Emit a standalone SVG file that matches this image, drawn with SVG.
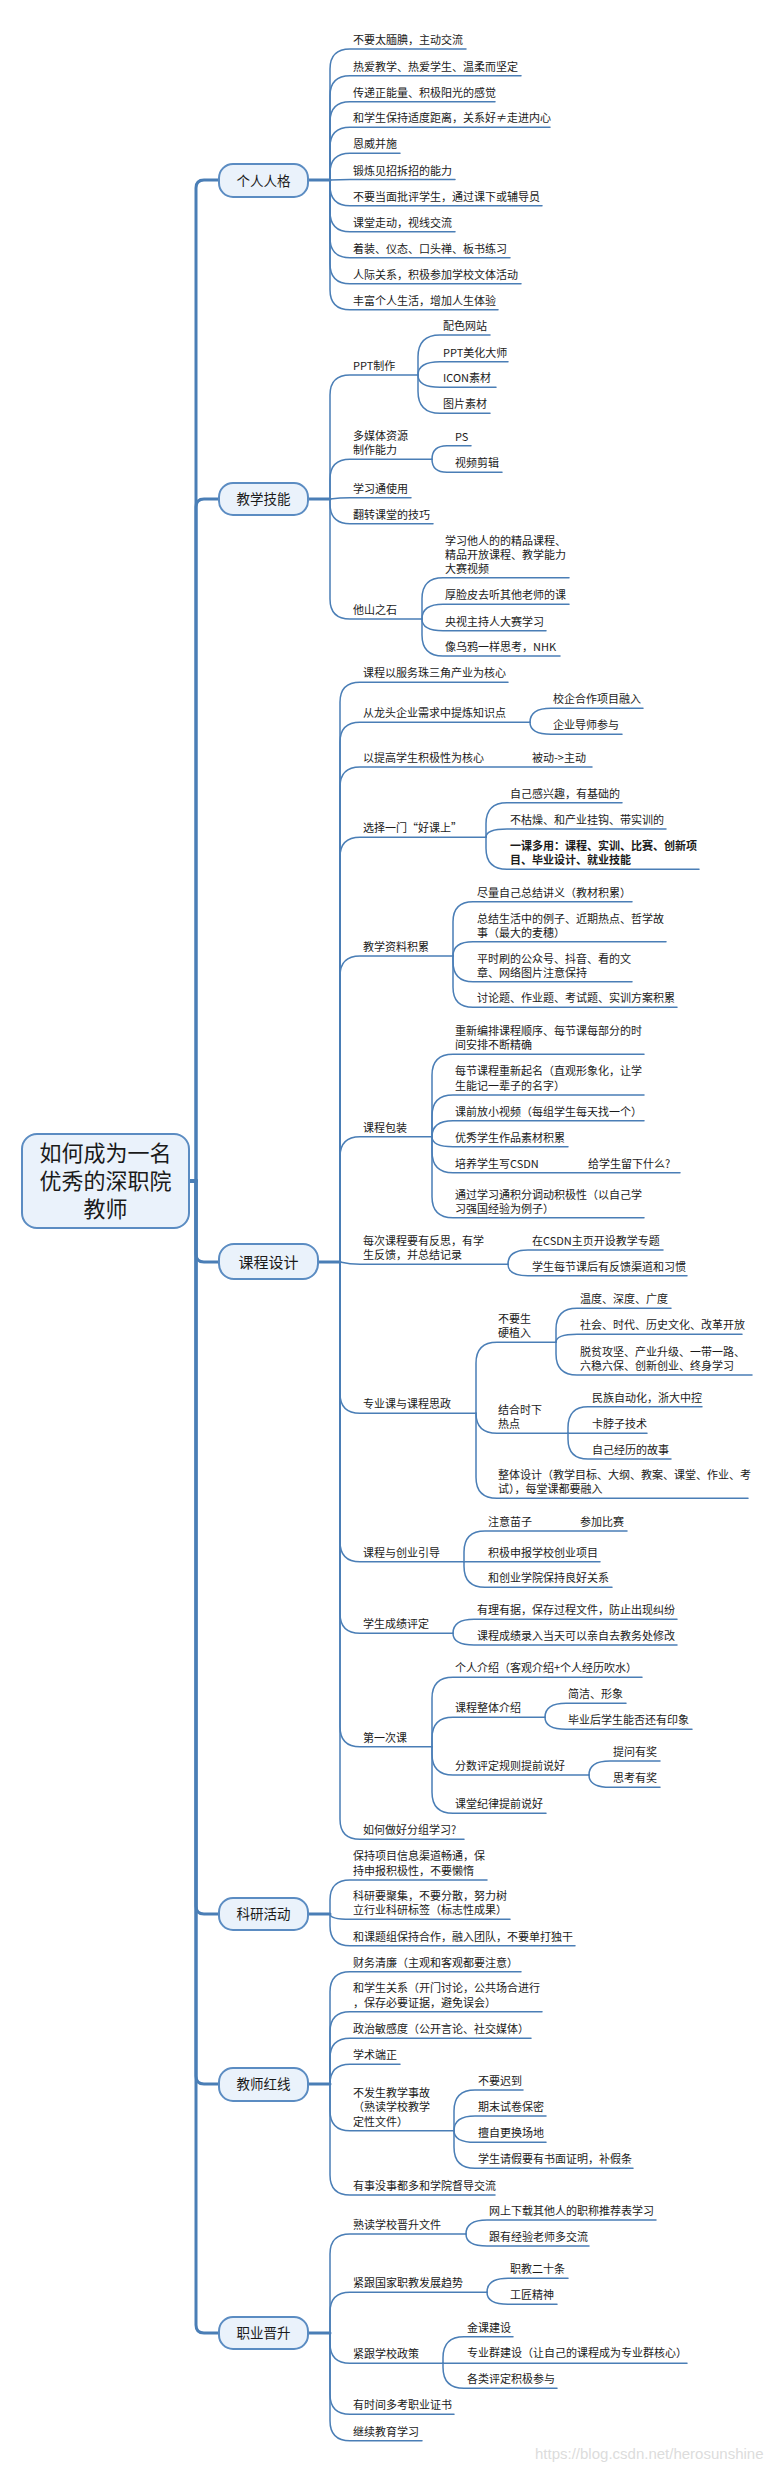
<svg xmlns="http://www.w3.org/2000/svg" width="784" height="2472" viewBox="0 0 784 2472">
<style>
.ln{fill:none;stroke:#4a7eb6;stroke-width:1.5;stroke-linecap:round}
.mn{stroke-width:3}
.t{font-family:"Noto Sans CJK SC","Noto Sans",sans-serif;font-size:11px;fill:#1a1a1a}
.b{font-weight:bold}
.box{fill:#eaf2fb;stroke:#5b8cc2;stroke-width:2}
.nt{font-family:"Noto Sans CJK SC","Noto Sans",sans-serif;font-size:13.5px;fill:#1a1a1a;text-anchor:middle}
.rt{font-family:"Noto Sans CJK SC","Noto Sans",sans-serif;font-size:22px;fill:#1a1a1a;text-anchor:middle}
.wm{font-family:"Liberation Sans",Arial,sans-serif;font-size:15px;fill:#dcdcdc}
</style>
<rect width="784" height="2472" fill="#ffffff"/>
<g id="connectors">
<!-- root trunk -->
<path class="ln mn" d="M189 1181 H196 V188 Q196 180 204 180 H219"/>
<path class="ln mn" d="M189 1181 H196 V507 Q196 499 204 499 H219"/>
<path class="ln mn" d="M189 1181 H196 V1254 Q196 1262 204 1262 H219"/>
<path class="ln mn" d="M189 1181 H196 V1906 Q196 1914 204 1914 H219"/>
<path class="ln mn" d="M189 1181 H196 V2076 Q196 2084 204 2084 H219"/>
<path class="ln mn" d="M189 1181 H196 V2325 Q196 2333 204 2333 H219"/>
<!-- 个人人格 -->
<path class="ln mn" d="M308 180 H330"/>
<path class="ln" d="M330 180 V69 Q330 49 350 49 H466"/>
<path class="ln" d="M330 180 V95.7 Q330 75.7 350 75.7 H521"/>
<path class="ln" d="M330 180 V121.7 Q330 101.7 350 101.7 H495"/>
<path class="ln" d="M330 180 V147.3 Q330 127.3 350 127.3 H550"/>
<path class="ln" d="M330 180 V173.3 Q330 153.3 350 153.3 H400"/>
<path class="ln" d="M330 180 Q340 179.5 350 179.5 H455"/>
<path class="ln" d="M330 180 V185.7 Q330 205.7 350 205.7 H542"/>
<path class="ln" d="M330 180 V211.7 Q330 231.7 350 231.7 H455"/>
<path class="ln" d="M330 180 V237.7 Q330 257.7 350 257.7 H510"/>
<path class="ln" d="M330 180 V263.7 Q330 283.7 350 283.7 H521"/>
<path class="ln" d="M330 180 V289.7 Q330 309.7 350 309.7 H498"/>
<!-- 教学技能 -->
<path class="ln mn" d="M308 499 H330"/>
<path class="ln" d="M330 499 V395 Q330 375 350 375 H418"/>
<path class="ln" d="M418 375 V357 Q418 335 440 335 H490"/>
<path class="ln" d="M418 375 Q418 361.7 440 361.7 H508"/>
<path class="ln" d="M418 375 Q418 387.3 440 387.3 H496"/>
<path class="ln" d="M418 375 V391.3 Q418 413.3 440 413.3 H490"/>
<path class="ln" d="M330 499 V479.3 Q330 459.3 350 459.3 H432"/>
<path class="ln" d="M432 459.3 Q432 445.7 447 445.7 H471"/>
<path class="ln" d="M432 459.3 Q432 472.3 447 472.3 H502"/>
<path class="ln" d="M330 499 Q340 497.7 350 497.7 H411"/>
<path class="ln" d="M330 499 V503.7 Q330 523.7 350 523.7 H433"/>
<path class="ln" d="M330 499 V599 Q330 619 350 619 H422"/>
<path class="ln" d="M422 619 V598.7 Q422 577.7 443 577.7 H569"/>
<path class="ln" d="M422 619 Q422 604.3 443 604.3 H569"/>
<path class="ln" d="M422 619 Q422 630.7 443 630.7 H546"/>
<path class="ln" d="M422 619 V635 Q422 656 443 656 H560"/>
<!-- 课程设计 -->
<path class="ln mn" d="M318 1262 H340"/>
<path class="ln" d="M340 1262 V702.3 Q340 682.3 360 682.3 H508"/>
<path class="ln" d="M340 1262 V742.3 Q340 722.3 360 722.3 H530"/>
<path class="ln" d="M530 722.3 Q530 708.3 551 708.3 H643"/>
<path class="ln" d="M530 722.3 Q530 734.3 551 734.3 H622"/>
<path class="ln" d="M340 1262 V787 Q340 767 360 767 H592"/>
<path class="ln" d="M340 1262 V857.3 Q340 837.3 360 837.3 H486"/>
<path class="ln" d="M486 837.3 V823.7 Q486 802.7 507 802.7 H622"/>
<path class="ln" d="M486 837.3 Q486 829 507 829 H666"/>
<path class="ln" d="M486 837.3 V848.3 Q486 869.3 507 869.3 H699"/>
<path class="ln" d="M340 1262 V976 Q340 956 360 956 H453"/>
<path class="ln" d="M453 956 V921.7 Q453 901.7 473 901.7 H632"/>
<path class="ln" d="M453 956 Q453 941.7 473 941.7 H666"/>
<path class="ln" d="M453 956 V961.7 Q453 981.7 473 981.7 H632"/>
<path class="ln" d="M453 956 V987.3 Q453 1007.3 473 1007.3 H677"/>
<path class="ln" d="M340 1262 V1156.7 Q340 1136.7 360 1136.7 H432"/>
<path class="ln" d="M432 1136.7 V1075.3 Q432 1054.3 453 1054.3 H644"/>
<path class="ln" d="M432 1136.7 V1116 Q432 1095 453 1095 H644"/>
<path class="ln" d="M432 1136.7 Q432 1120.7 453 1120.7 H644"/>
<path class="ln" d="M432 1136.7 Q432 1146.7 453 1146.7 H568"/>
<path class="ln" d="M432 1136.7 V1151.7 Q432 1172.7 453 1172.7 H680"/>
<path class="ln" d="M432 1136.7 V1196.7 Q432 1217.7 453 1217.7 H644"/>
<path class="ln" d="M340 1262 Q350 1264.3 360 1264.3 H508"/>
<path class="ln" d="M508 1264.3 Q508 1250 528 1250 H663"/>
<path class="ln" d="M508 1264.3 Q508 1275.7 528 1275.7 H687"/>
<path class="ln" d="M340 1262 V1393.3 Q340 1413.3 360 1413.3 H476"/>
<path class="ln" d="M476 1413.3 V1363.3 Q476 1342.3 497 1342.3 H556"/>
<path class="ln" d="M556 1342.3 V1329.3 Q556 1308.3 577 1308.3 H671"/>
<path class="ln" d="M556 1342.3 Q556 1334.3 577 1334.3 H742"/>
<path class="ln" d="M556 1342.3 V1354 Q556 1375 577 1375 H752"/>
<path class="ln" d="M476 1413.3 Q476 1433.3 497 1433.3 H568"/>
<path class="ln" d="M568 1433.3 V1427.7 Q568 1406.7 588 1406.7 H702"/>
<path class="ln" d="M568 1433.3 H647"/>
<path class="ln" d="M568 1433.3 V1439 Q568 1459 588 1459 H671"/>
<path class="ln" d="M476 1413.3 V1477.3 Q476 1498.3 497 1498.3 H748"/>
<path class="ln" d="M340 1262 V1541.7 Q340 1561.7 360 1561.7 H464"/>
<path class="ln" d="M464 1561.7 V1552 Q464 1531 485 1531 H627"/>
<path class="ln" d="M464 1561.7 H600"/>
<path class="ln" d="M464 1561.7 V1566.3 Q464 1587.3 485 1587.3 H612"/>
<path class="ln" d="M340 1262 V1613.3 Q340 1633.3 360 1633.3 H453"/>
<path class="ln" d="M453 1633.3 Q453 1619.3 474 1619.3 H677"/>
<path class="ln" d="M453 1633.3 Q453 1645 474 1645 H677"/>
<path class="ln" d="M340 1262 V1726.7 Q340 1746.7 360 1746.7 H432"/>
<path class="ln" d="M432 1746.7 V1698.3 Q432 1677.3 453 1677.3 H642"/>
<path class="ln" d="M432 1746.7 V1738.3 Q432 1717.3 453 1717.3 H545"/>
<path class="ln" d="M545 1717.3 Q545 1703.3 566 1703.3 H626"/>
<path class="ln" d="M545 1717.3 Q545 1729.3 566 1729.3 H692"/>
<path class="ln" d="M432 1746.7 V1754 Q432 1775 453 1775 H589"/>
<path class="ln" d="M589 1775 Q589 1761 610 1761 H660"/>
<path class="ln" d="M589 1775 Q589 1787.3 610 1787.3 H660"/>
<path class="ln" d="M432 1746.7 V1792.3 Q432 1813.3 453 1813.3 H546"/>
<path class="ln" d="M340 1262 V1819.3 Q340 1839.3 360 1839.3 H464"/>
<!-- 科研活动 -->
<path class="ln mn" d="M308 1914 H330"/>
<path class="ln" d="M330 1914 V1900 Q330 1880 350 1880 H487"/>
<path class="ln" d="M330 1914 Q330 1919.3 350 1919.3 H510"/>
<path class="ln" d="M330 1914 V1925.7 Q330 1945.7 350 1945.7 H575"/>
<!-- 教师红线 -->
<path class="ln mn" d="M308 2084 H330"/>
<path class="ln" d="M330 2084 V1991.7 Q330 1971.7 350 1971.7 H521"/>
<path class="ln" d="M330 2084 V2031.7 Q330 2011.7 350 2011.7 H542"/>
<path class="ln" d="M330 2084 V2058.3 Q330 2038.3 350 2038.3 H531"/>
<path class="ln" d="M330 2084 Q330 2064.3 350 2064.3 H400"/>
<path class="ln" d="M330 2084 V2110.7 Q330 2130.7 350 2130.7 H454"/>
<path class="ln" d="M454 2130.7 V2111 Q454 2090 475 2090 H523"/>
<path class="ln" d="M454 2130.7 Q454 2116 475 2116 H546"/>
<path class="ln" d="M454 2130.7 Q454 2142.3 475 2142.3 H546"/>
<path class="ln" d="M454 2130.7 V2147.3 Q454 2168.3 475 2168.3 H633"/>
<path class="ln" d="M330 2084 V2175 Q330 2195 350 2195 H495"/>
<!-- 职业晋升 -->
<path class="ln mn" d="M308 2333 H330"/>
<path class="ln" d="M330 2333 V2254 Q330 2234 350 2234 H466"/>
<path class="ln" d="M466 2234 Q466 2220 487 2220 H656"/>
<path class="ln" d="M466 2234 Q466 2246 487 2246 H589"/>
<path class="ln" d="M330 2333 V2312.3 Q330 2292.3 350 2292.3 H487"/>
<path class="ln" d="M487 2292.3 Q487 2278.3 508 2278.3 H568"/>
<path class="ln" d="M487 2292.3 Q487 2304.3 508 2304.3 H557"/>
<path class="ln" d="M330 2333 V2343.3 Q330 2363.3 350 2363.3 H443"/>
<path class="ln" d="M443 2363.3 V2357.7 Q443 2336.7 464 2336.7 H513"/>
<path class="ln" d="M443 2363.3 H687"/>
<path class="ln" d="M443 2363.3 V2367.3 Q443 2388.3 464 2388.3 H557"/>
<path class="ln" d="M330 2333 V2394.3 Q330 2414.3 350 2414.3 H454"/>
<path class="ln" d="M330 2333 V2420.7 Q330 2440.7 350 2440.7 H422"/>
</g>

<g id="root"><rect class="box" x="22" y="1134" width="167" height="94" rx="15"/>
<text class="rt" x="105.5" y="1161">如何成为一名</text>
<text class="rt" x="105.5" y="1189">优秀的深职院</text>
<text class="rt" x="105.5" y="1217">教师</text></g>

<g id="n-geren"><rect class="box" x="219" y="164" width="89" height="33" rx="14"/><text class="nt" x="263.5" y="185.5">个人人格</text></g>
<g id="n-jineng"><rect class="box" x="219" y="483" width="89" height="32" rx="14"/><text class="nt" x="263.5" y="504">教学技能</text></g>
<g id="n-kecheng"><rect class="box" x="219" y="1244" width="99" height="35" rx="15"/><text class="nt" x="268.5" y="1267.5" style="font-size:15px">课程设计</text></g>
<g id="n-keyan"><rect class="box" x="219" y="1898" width="89" height="32" rx="14"/><text class="nt" x="263.5" y="1919">科研活动</text></g>
<g id="n-hongxian"><rect class="box" x="219" y="2068" width="89" height="33" rx="14"/><text class="nt" x="263.5" y="2089">教师红线</text></g>
<g id="n-jinsheng"><rect class="box" x="219" y="2317" width="89" height="32" rx="14"/><text class="nt" x="263.5" y="2338">职业晋升</text></g>

<g id="geren-items" class="t">
<g id="g1"><text x="353" y="44">不要太腼腆，主动交流</text></g>
<g id="g2"><text x="353" y="70.7">热爱教学、热爱学生、温柔而坚定</text></g>
<g id="g3"><text x="353" y="96.7">传递正能量、积极阳光的感觉</text></g>
<g id="g4"><text x="353" y="122.3">和学生保持适度距离，关系好≠走进内心</text></g>
<g id="g5"><text x="353" y="148.3">恩威并施</text></g>
<g id="g6"><text x="353" y="174.5">锻炼见招拆招的能力</text></g>
<g id="g7"><text x="353" y="200.7">不要当面批评学生，通过课下或辅导员</text></g>
<g id="g8"><text x="353" y="226.7">课堂走动，视线交流</text></g>
<g id="g9"><text x="353" y="252.7">着装、仪态、口头禅、板书练习</text></g>
<g id="g10"><text x="353" y="278.7">人际关系，积极参加学校文体活动</text></g>
<g id="g11"><text x="353" y="304.7">丰富个人生活，增加人生体验</text></g>
</g>

<g id="jineng-items" class="t">
<g id="j1"><text x="353" y="370">PPT制作</text></g>
<g id="j1a"><text x="443" y="330">配色网站</text></g>
<g id="j1b"><text x="443" y="356.7">PPT美化大师</text></g>
<g id="j1c"><text x="443" y="382.3">ICON素材</text></g>
<g id="j1d"><text x="443" y="408.3">图片素材</text></g>
<g id="j2"><text x="353" y="440.3">多媒体资源<tspan x="353" dy="14">制作能力</tspan></text></g>
<g id="j2a"><text x="455" y="440.7">PS</text></g>
<g id="j2b"><text x="455" y="467.3">视频剪辑</text></g>
<g id="j3"><text x="353" y="492.7">学习通使用</text></g>
<g id="j4"><text x="353" y="518.7">翻转课堂的技巧</text></g>
<g id="j5"><text x="353" y="614">他山之石</text></g>
<g id="j5a"><text x="445" y="544.7">学习他人的的精品课程、<tspan x="445" dy="14">精品开放课程、教学能力</tspan><tspan x="445" dy="14">大赛视频</tspan></text></g>
<g id="j5b"><text x="445" y="599.3">厚脸皮去听其他老师的课</text></g>
<g id="j5c"><text x="445" y="625.7">央视主持人大赛学习</text></g>
<g id="j5d"><text x="445" y="651">像乌鸦一样思考，NHK</text></g>
</g>

<g id="kecheng-items" class="t">
<g id="k1"><text x="363" y="677.3">课程以服务珠三角产业为核心</text></g>
<g id="k2"><text x="363" y="717.3">从龙头企业需求中提炼知识点</text></g>
<g id="k2a"><text x="553" y="703.3">校企合作项目融入</text></g>
<g id="k2b"><text x="553" y="729.3">企业导师参与</text></g>
<g id="k3"><text x="363" y="762">以提高学生积极性为核心</text></g>
<g id="k3a"><text x="532" y="762">被动-&gt;主动</text></g>
<g id="k4"><text x="363" y="832.3">选择一门“好课上”</text></g>
<g id="k4a"><text x="510" y="797.7">自己感兴趣，有基础的</text></g>
<g id="k4b"><text x="510" y="824">不枯燥、和产业挂钩、带实训的</text></g>
<g id="k4c"><text class="b" x="510" y="850.3">一课多用：课程、实训、比赛、创新项<tspan x="510" dy="14">目、毕业设计、就业技能</tspan></text></g>
<g id="k5"><text x="363" y="951">教学资料积累</text></g>
<g id="k5a"><text x="477" y="896.7">尽量自己总结讲义（教材积累）</text></g>
<g id="k5b"><text x="477" y="922.7">总结生活中的例子、近期热点、哲学故<tspan x="477" dy="14">事（最大的麦穗）</tspan></text></g>
<g id="k5c"><text x="477" y="962.7">平时刷的公众号、抖音、看的文<tspan x="477" dy="14">章、网络图片注意保持</tspan></text></g>
<g id="k5d"><text x="477" y="1002.3">讨论题、作业题、考试题、实训方案积累</text></g>
<g id="k6"><text x="363" y="1131.7">课程包装</text></g>
<g id="k6a"><text x="455" y="1035.3">重新编排课程顺序、每节课每部分的时<tspan x="455" dy="14">间安排不断精确</tspan></text></g>
<g id="k6b"><text x="455" y="1075">每节课程重新起名（直观形象化，让学<tspan x="455" dy="15">生能记一辈子的名字）</tspan></text></g>
<g id="k6c"><text x="455" y="1115.7">课前放小视频（每组学生每天找一个）</text></g>
<g id="k6d"><text x="455" y="1141.7">优秀学生作品素材积累</text></g>
<g id="k6e"><text x="455" y="1167.7">培养学生写CSDN</text></g>
<g id="k6e1"><text x="588" y="1167.7">给学生留下什么?</text></g>
<g id="k6f"><text x="455" y="1198.7">通过学习通积分调动积极性（以自己学<tspan x="455" dy="14">习强国经验为例子）</tspan></text></g>
<g id="k7"><text x="363" y="1244.8">每次课程要有反思，有学<tspan x="363" dy="14.5">生反馈，并总结记录</tspan></text></g>
<g id="k7a"><text x="532" y="1245">在CSDN主页开设教学专题</text></g>
<g id="k7b"><text x="532" y="1270.7">学生每节课后有反馈渠道和习惯</text></g>
<g id="k8"><text x="363" y="1408.3">专业课与课程思政</text></g>
<g id="k8a"><text x="498" y="1323.3">不要生<tspan x="498" dy="14">硬植入</tspan></text></g>
<g id="k8a1"><text x="580" y="1303.3">温度、深度、广度</text></g>
<g id="k8a2"><text x="580" y="1329.3">社会、时代、历史文化、改革开放</text></g>
<g id="k8a3"><text x="580" y="1356">脱贫攻坚、产业升级、一带一路、<tspan x="580" dy="14">六稳六保、创新创业、终身学习</tspan></text></g>
<g id="k8b"><text x="498" y="1414.3">结合时下<tspan x="498" dy="14">热点</tspan></text></g>
<g id="k8b1"><text x="592" y="1401.7">民族自动化，浙大中控</text></g>
<g id="k8b2"><text x="592" y="1428.3">卡脖子技术</text></g>
<g id="k8b3"><text x="592" y="1454">自己经历的故事</text></g>
<g id="k8c"><text x="498" y="1479.3">整体设计（教学目标、大纲、教案、课堂、作业、考<tspan x="498" dy="14">试），每堂课都要融入</tspan></text></g>
<g id="k9"><text x="363" y="1556.7">课程与创业引导</text></g>
<g id="k9a"><text x="488" y="1526">注意苗子</text></g>
<g id="k9a1"><text x="580" y="1526">参加比赛</text></g>
<g id="k9b"><text x="488" y="1556.7">积极申报学校创业项目</text></g>
<g id="k9c"><text x="488" y="1582.3">和创业学院保持良好关系</text></g>
<g id="k10"><text x="363" y="1628.3">学生成绩评定</text></g>
<g id="k10a"><text x="477" y="1614.3">有理有据，保存过程文件，防止出现纠纷</text></g>
<g id="k10b"><text x="477" y="1640">课程成绩录入当天可以亲自去教务处修改</text></g>
<g id="k11"><text x="363" y="1741.7">第一次课</text></g>
<g id="k11a"><text x="455" y="1672.3">个人介绍（客观介绍+个人经历吹水）</text></g>
<g id="k11b"><text x="455" y="1712.3">课程整体介绍</text></g>
<g id="k11b1"><text x="568" y="1698.3">简洁、形象</text></g>
<g id="k11b2"><text x="568" y="1724.3">毕业后学生能否还有印象</text></g>
<g id="k11c"><text x="455" y="1770">分数评定规则提前说好</text></g>
<g id="k11c1"><text x="613" y="1756">提问有奖</text></g>
<g id="k11c2"><text x="613" y="1782.3">思考有奖</text></g>
<g id="k11d"><text x="455" y="1808.3">课堂纪律提前说好</text></g>
<g id="k12"><text x="363" y="1834.3">如何做好分组学习?</text></g>
</g>

<g id="keyan-items" class="t">
<g id="y1"><text x="353" y="1860">保持项目信息渠道畅通，保<tspan x="353" dy="15">持申报积极性，不要懒惰</tspan></text></g>
<g id="y2"><text x="353" y="1900.3">科研要聚集，不要分散，努力树<tspan x="353" dy="14">立行业科研标签（标志性成果）</tspan></text></g>
<g id="y3"><text x="353" y="1940.7">和课题组保持合作，融入团队，不要单打独干</text></g>
</g>

<g id="hongxian-items" class="t">
<g id="h1"><text x="353" y="1966.7">财务清廉（主观和客观都要注意）</text></g>
<g id="h2"><text x="353" y="1992.2">和学生关系（开门讨论，公共场合进行<tspan x="353" dy="14.5">，保存必要证据，避免误会）</tspan></text></g>
<g id="h3"><text x="353" y="2033.3">政治敏感度（公开言论、社交媒体）</text></g>
<g id="h4"><text x="353" y="2059.3">学术端正</text></g>
<g id="h5"><text x="353" y="2096.7">不发生教学事故<tspan x="353" dy="14.5">（熟读学校教学</tspan><tspan x="353" dy="14.5">定性文件）</tspan></text></g>
<g id="h5a"><text x="478" y="2085">不要迟到</text></g>
<g id="h5b"><text x="478" y="2111">期末试卷保密</text></g>
<g id="h5c"><text x="478" y="2137.3">擅自更换场地</text></g>
<g id="h5d"><text x="478" y="2163.3">学生请假要有书面证明，补假条</text></g>
<g id="h6"><text x="353" y="2190">有事没事都多和学院督导交流</text></g>
</g>

<g id="jinsheng-items" class="t">
<g id="s1"><text x="353" y="2229">熟读学校晋升文件</text></g>
<g id="s1a"><text x="489" y="2215">网上下载其他人的职称推荐表学习</text></g>
<g id="s1b"><text x="489" y="2241">跟有经验老师多交流</text></g>
<g id="s2"><text x="353" y="2287.3">紧跟国家职教发展趋势</text></g>
<g id="s2a"><text x="510" y="2273.3">职教二十条</text></g>
<g id="s2b"><text x="510" y="2299.3">工匠精神</text></g>
<g id="s3"><text x="353" y="2358.3">紧跟学校政策</text></g>
<g id="s3a"><text x="467" y="2331.7">金课建设</text></g>
<g id="s3b"><text x="467" y="2357.3">专业群建设（让自己的课程成为专业群核心）</text></g>
<g id="s3c"><text x="467" y="2383.3">各类评定积极参与</text></g>
<g id="s4"><text x="353" y="2409.3">有时间多考职业证书</text></g>
<g id="s5"><text x="353" y="2435.7">继续教育学习</text></g>
</g>

<text class="wm" x="535" y="2459">https://blog.csdn.net/herosunshine</text>
</svg>
